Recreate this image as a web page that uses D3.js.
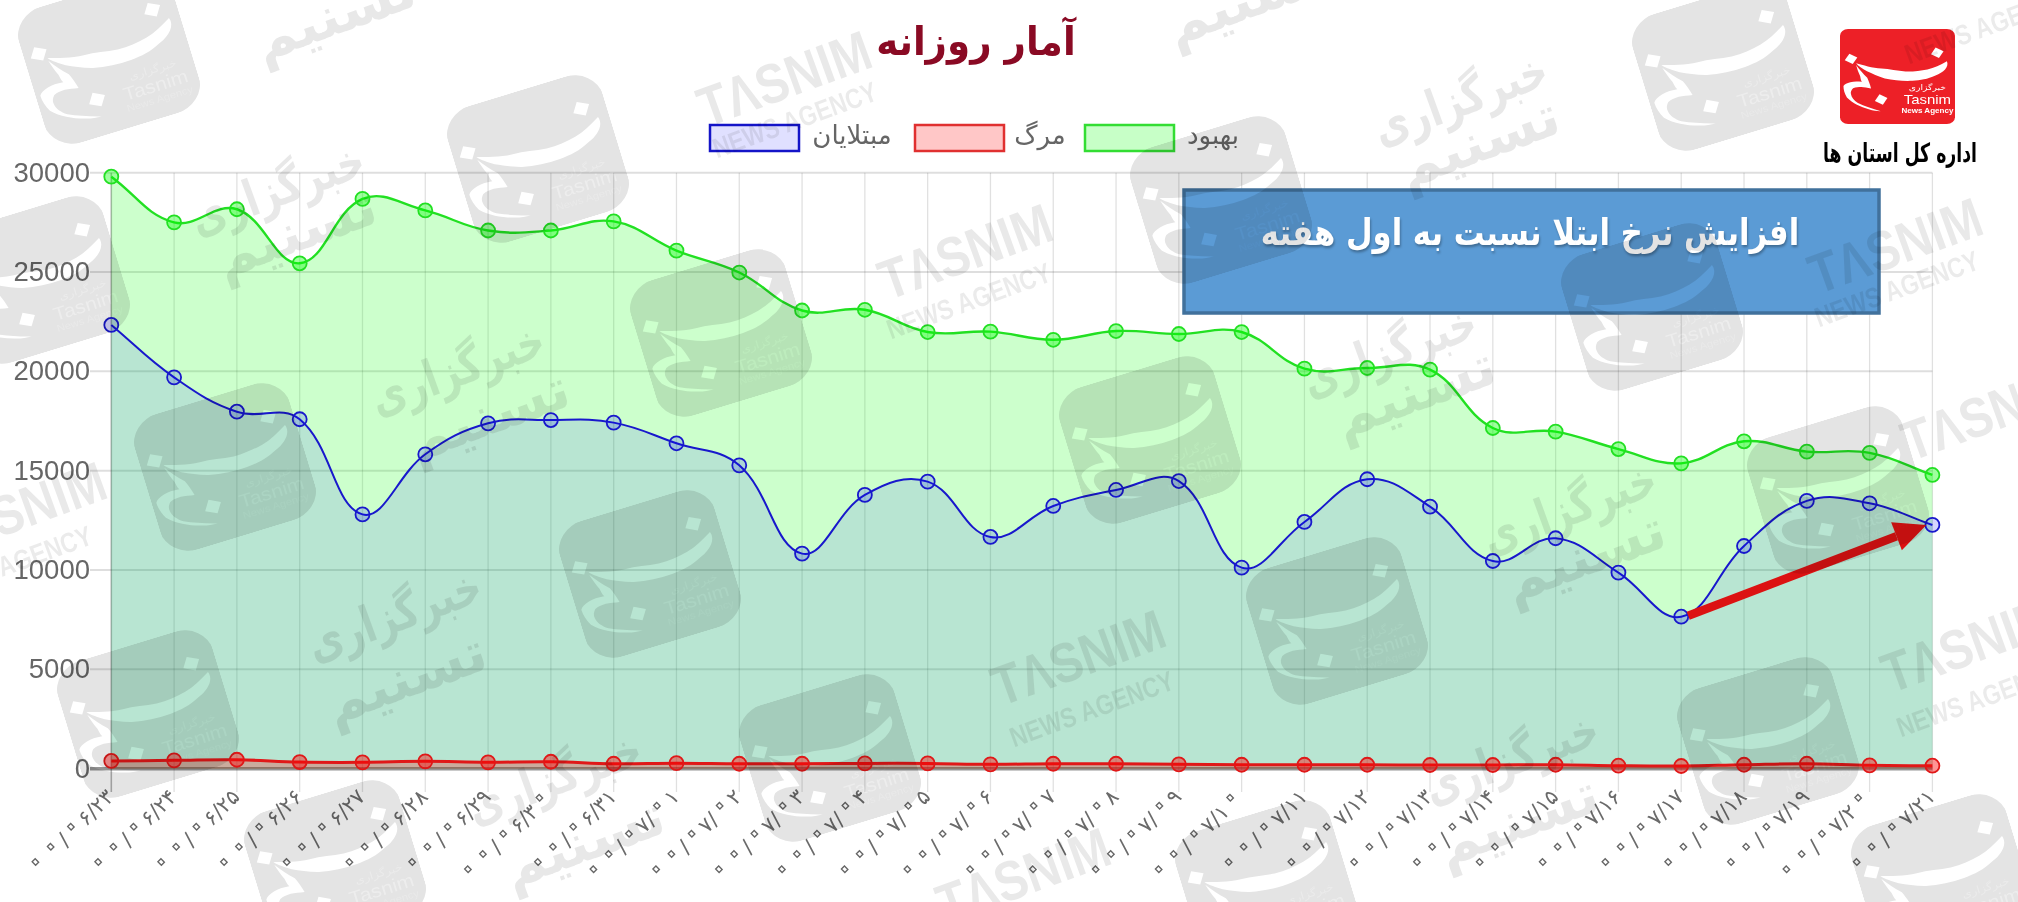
<!DOCTYPE html>
<html lang="fa">
<head>
<meta charset="utf-8">
<title>آمار روزانه</title>
<script src="https://cdn.jsdelivr.net/npm/d3@7/dist/d3.min.js"></script>
<style>
html,body{margin:0;padding:0;background:#fff;overflow:hidden}
svg{display:block;filter:blur(.45px)}
text{font-family:"DejaVu Sans",sans-serif}
</style>
</head>
<body>
<svg id="c" width="2018" height="902" viewBox="0 0 2018 902"></svg>
<script>
const dates = ["۰۰/۰۶/۲۳","۰۰/۰۶/۲۴","۰۰/۰۶/۲۵","۰۰/۰۶/۲۶","۰۰/۰۶/۲۷","۰۰/۰۶/۲۸","۰۰/۰۶/۲۹","۰۰/۰۶/۳۰","۰۰/۰۶/۳۱","۰۰/۰۷/۰۱","۰۰/۰۷/۰۲","۰۰/۰۷/۰۳","۰۰/۰۷/۰۴","۰۰/۰۷/۰۵","۰۰/۰۷/۰۶","۰۰/۰۷/۰۷","۰۰/۰۷/۰۸","۰۰/۰۷/۰۹","۰۰/۰۷/۱۰","۰۰/۰۷/۱۱","۰۰/۰۷/۱۲","۰۰/۰۷/۱۳","۰۰/۰۷/۱۴","۰۰/۰۷/۱۵","۰۰/۰۷/۱۶","۰۰/۰۷/۱۷","۰۰/۰۷/۱۸","۰۰/۰۷/۱۹","۰۰/۰۷/۲۰","۰۰/۰۷/۲۱"];
const recovered = [29800,27500,28160,25440,28680,28100,27090,27090,27550,26080,24975,23065,23100,21980,22000,21590,22030,21880,21980,20135,20170,20085,17150,16970,16090,15370,16480,15960,15900,14785];
const infected = [22336,19700,17970,17590,12800,15825,17385,17550,17420,16380,15270,10825,13780,14450,11665,13225,14030,14480,10120,12420,14570,13190,10455,11600,9870,7650,11210,13480,13360,12270];
const deaths = [390,420,450,335,320,370,320,350,250,280,250,250,265,265,220,250,250,220,200,200,200,185,185,200,150,135,200,250,170,150];
const yTicks = [0,5000,10000,15000,20000,25000,30000];
const titleText = "آمار روزانه";
const noteText = "افزایش نرخ ابتلا نسبت به اول هفته";
const unitText = "اداره کل استان ها";
const seriesNames = ["مبتلایان","مرگ","بهبود"];

// decoration layout (watermarks of the source picture)
const wmLogos = [[109,60],[538,159],[721,333],[39,280],[1723,67],[1221,200],[1652,307],[1150,440],[225,467],[650,574],[830,758],[148,714],[335,864],[1337,621],[1768,741],[1838,490],[1266,884],[1942,878]];
const wmAgency = [[283,205],[463,385],[1466,115],[1395,367],[1575,524],[1517,774],[560,794],[400,631]];
const wmName = [[302,250],[495,433],[1485,160],[1421,410],[1591,574],[1524,838],[590,860],[412,696],[341,33],[1253,17]];
const wmLatin = [[791,97],[972,270],[1902,264],[1085,676],[1995,431],[26,528],[1975,663],[1030,894]];
const wmNews = [[798,129],[972,310],[1900,298],[1095,718],[13,573],[1982,708],[1990,35]];

const svg = d3.select("#c");
const x = d3.scalePoint().domain(d3.range(dates.length)).range([111.3,1932.4]);
const y = d3.scaleLinear().domain([0,30000]).range([768.7,172.7]);

function spline(values, close){
  const pts = values.map((v,i)=>[x(i),y(v)]);
  const t = 0.4, n = pts.length, p = d3.path();
  const cps = pts.map((c,i)=>{
    const a = pts[Math.max(i-1,0)], b = pts[Math.min(i+1,n-1)];
    const d01 = Math.hypot(c[0]-a[0],c[1]-a[1]), d12 = Math.hypot(b[0]-c[0],b[1]-c[1]);
    const s = d01+d12 || 1, fa = t*d01/s, fb = t*d12/s;
    return {prev:[c[0]-fa*(b[0]-a[0]),c[1]-fa*(b[1]-a[1])], next:[c[0]+fb*(b[0]-a[0]),c[1]+fb*(b[1]-a[1])]};
  });
  p.moveTo(pts[0][0],pts[0][1]);
  for(let i=1;i<n;i++) p.bezierCurveTo(cps[i-1].next[0],cps[i-1].next[1],cps[i].prev[0],cps[i].prev[1],pts[i][0],pts[i][1]);
  if(close){ p.lineTo(x(n-1),y(0)); p.lineTo(x(0),y(0)); p.closePath(); }
  return p.toString();
}

// grid
const grid = svg.append("g");
grid.selectAll("line.h").data(yTicks).join("line").attr("class","h")
  .attr("x1",90).attr("x2",x(dates.length-1)).attr("y1",d=>y(d)).attr("y2",d=>y(d))
  .attr("stroke",d=>d===0?"rgba(0,0,0,.42)":"rgba(0,0,0,.13)").attr("stroke-width",d=>d===0?3.5:2);
grid.selectAll("line.v").data(dates.map((d,i)=>i)).join("line").attr("class","v")
  .attr("x1",d=>x(d)).attr("x2",d=>x(d)).attr("y1",y(30000)).attr("y2",792)
  .attr("stroke",d=>d===0?"rgba(0,0,0,.3)":"rgba(0,0,0,.12)").attr("stroke-width",d=>d===0?1.6:1.3);

// axis labels
svg.append("g").selectAll("text").data(yTicks).join("text")
  .attr("x",90).attr("y",d=>y(d)+9).attr("text-anchor","end")
  .style("font-family",'"Liberation Sans",sans-serif').style("font-size","27.5px").attr("fill","#666").text(d=>d);
const xl = svg.append("g").selectAll("text").data(dates).join("text")
  .attr("transform",(d,i)=>`translate(${x(i)+4},${798}) rotate(-45)`)
  .attr("text-anchor","end").attr("direction","ltr")
  .style("font-size","21px").attr("fill","#6a6a6a");
// the Persian zero is shown as an open ring: same characters, drawn larger and hollow
xl.each(function(d){
  const el = d3.select(this);
  for(const ch of d){
    const ts = el.append("tspan").text(ch);
    if(ch==="۰") ts.style("font-size","40px").style("letter-spacing","-12px").attr("fill","none").attr("stroke","#666").attr("stroke-width",1.3);
  }
});

// series
const series = [
  {v:recovered,fill:"rgba(0,255,0,.2)",stroke:"#22e022",pf:"rgba(0,255,0,.38)",w:2.4},
  {v:infected,fill:"rgba(0,0,255,.1)",stroke:"#1818cc",pf:"rgba(0,0,255,.16)",w:2},
  {v:deaths,fill:"rgba(255,0,0,.25)",stroke:"#e01818",pf:"rgba(255,0,0,.42)",w:3}
];
series.forEach(s=>{
  const g = svg.append("g");
  g.append("path").attr("d",spline(s.v,true)).attr("fill",s.fill);
  g.append("path").attr("d",spline(s.v,false)).attr("fill","none").attr("stroke",s.stroke).attr("stroke-width",s.w);
  g.selectAll("circle").data(s.v).join("circle")
    .attr("cx",(d,i)=>x(i)).attr("cy",d=>y(d)).attr("r",7)
    .attr("fill",s.pf).attr("stroke",s.stroke).attr("stroke-width",1.8);
});

// arrow between the week's low and the last point of the infected series
const a0 = [x(25)+7,y(infected[25])-1], a1 = [x(29)-6,y(infected[29])];
const ang = Math.atan2(a1[1]-a0[1],a1[0]-a0[0]), hl=32, hw=15;
const neck = [a1[0]-hl*Math.cos(ang),a1[1]-hl*Math.sin(ang)];
svg.append("line").attr("x1",a0[0]).attr("y1",a0[1]).attr("x2",neck[0]).attr("y2",neck[1])
  .attr("stroke","#dc1212").attr("stroke-width",8.5);
svg.append("path").attr("fill","#dc1212").attr("d",d3.line()([a1,
  [neck[0]-hw*Math.sin(ang),neck[1]+hw*Math.cos(ang)],
  [neck[0]+hw*Math.sin(ang),neck[1]-hw*Math.cos(ang)]])+"Z");

// note box
svg.append("rect").attr("x",1184).attr("y",190).attr("width",695).attr("height",123)
  .attr("fill","#5b9bd5").attr("stroke","#41719c").attr("stroke-width",3.5);
svg.append("text").attr("transform","translate(1530,245) scale(.93,1.1)").attr("text-anchor","middle").attr("direction","rtl")
  .style("font-weight","bold").style("font-size","33px").attr("fill","#fff")
  .style("filter","drop-shadow(1px 2px 1px rgba(0,0,0,.3))").text(noteText);

// title
svg.append("text").attr("transform","translate(976,55) scale(.93,1)").attr("text-anchor","middle").attr("direction","rtl")
  .style("font-weight","bold").style("font-size","40px").attr("fill","#8a0a24").text(titleText);

// legend
const legend = [
  {name:seriesNames[0],sx:710,tx:852,fill:"rgba(0,0,255,.12)",stroke:"#1414c8"},
  {name:seriesNames[1],sx:915,tx:1040,fill:"rgba(255,0,0,.22)",stroke:"#e03030"},
  {name:seriesNames[2],sx:1085,tx:1213,fill:"rgba(0,255,0,.22)",stroke:"#33dd33"}
];
const lg = svg.append("g").selectAll("g").data(legend).join("g");
lg.append("rect").attr("x",d=>d.sx).attr("y",125).attr("width",89).attr("height",26)
  .attr("fill",d=>d.fill).attr("stroke",d=>d.stroke).attr("stroke-width",2.5);
lg.append("text").attr("x",d=>d.tx).attr("y",144).attr("text-anchor","middle").attr("direction","rtl")
  .style("font-size","26px").attr("fill","#666").text(d=>d.name);

// brand mark
const defs = svg.append("defs");
const brush = "M93 34C95 40 90 46 83 49C76 53 70 54 63 54.5C55 55 47 54 39 52C33 50 28 47 23.5 44.6C20 42 16 39 14 36C20 38 28 41 36 41.6C43 42 50 44 57 44.8C64 45 70 44 76 42.6C82 41 87 38 93 34Z"
  +"M14 38C15 42 16 46 17.5 49.5C18 52 18 54 19 55.6C15 55 12 55 9 56C6 57 4 58 3 60C3 64 4 68 6 72C11 78 18 82 25 84.4C29 86 32 86 35.5 86.5C28 84 21 81 15.6 78C12 75 10 72 9.5 68.4C9 66 10 64 11.4 62.3C14 61 16 61 18.5 61C21 61 24 62 27 62.6C26 58 25 55 23.7 51.4C20 47 17 43 14 38Z";
const dots = [[84.6,25],[9.6,31.4],[35.8,74.2]];
function drawGlyph(g,fill){
  g.append("path").attr("d",brush).attr("fill",fill);
  g.selectAll("rect.dot").data(dots).join("rect").attr("class","dot")
    .attr("x",d=>d[0]-4).attr("y",d=>d[1]-4).attr("width",8).attr("height",8)
    .attr("transform",d=>`rotate(30 ${d[0]} ${d[1]})`).attr("fill",fill);
}
const m = defs.append("mask").attr("id","wmMask").attr("maskUnits","userSpaceOnUse")
  .attr("x",0).attr("y",0).attr("width",100).attr("height",100);
m.append("rect").attr("width",100).attr("height",100).attr("rx",20).attr("fill","#fff");
drawGlyph(m,"#000");
m.append("text").attr("x",74).attr("y",68).attr("text-anchor","middle").style("font-size","7.5px").attr("fill","#bbb").text("خبرگزاری");
m.append("text").attr("x",73).attr("y",81).attr("text-anchor","middle").style("font-family",'"Liberation Sans"').style("font-size","13px").attr("fill","#aaa").text("Tasnim");
m.append("text").attr("x",73).attr("y",89).attr("text-anchor","middle").style("font-family",'"Liberation Sans"').style("font-size","7px").attr("fill","#ccc").text("News Agency");
defs.append("g").attr("id","wmLogo").append("rect").attr("width",100).attr("height",100).attr("mask","url(#wmMask)").attr("fill","#000");

// top-right logo
const logo = svg.append("g").attr("transform","translate(1840,29) scale(1.15,.95)");
logo.append("rect").attr("width",100).attr("height",100).attr("rx",7).attr("fill","#ed2027");
drawGlyph(logo,"#fff");
logo.append("text").attr("x",76).attr("y",64).attr("text-anchor","middle").style("font-size","8px").attr("fill","#fff").text("خبرگزاری");
logo.append("text").attr("x",76).attr("y",79).attr("text-anchor","middle").style("font-family",'"Liberation Sans"').style("font-size","13px").attr("fill","#fff").text("Tasnim");
logo.append("text").attr("x",76).attr("y",88).attr("text-anchor","middle").style("font-family",'"Liberation Sans"').style("font-size","7px").style("font-weight","bold").attr("fill","#fff").text("News Agency");
svg.append("text").attr("transform","translate(1900,162) scale(.72,1.1)").attr("text-anchor","middle").attr("direction","rtl")
  .style("font-weight","bold").style("font-size","24px").attr("fill","#000").text(unitText);

// watermarks on top of everything in the chart
const wm = svg.append("g").style("pointer-events","none");
wm.selectAll("use").data(wmLogos).join("use").attr("href","#wmLogo")
  .attr("transform",d=>`translate(${d[0]},${d[1]}) rotate(-17) scale(1.62,1.42) translate(-50,-50)`).attr("opacity",.105);
const wmText = (data,txt,fs,sx,font,weight,op)=> wm.append("g").selectAll("text").data(data).join("text")
  .attr("transform",d=>`translate(${d[0]},${d[1]}) rotate(-20) scale(${sx},1)`)
  .attr("text-anchor","middle").style("font-family",font).style("font-weight",weight).style("font-size",fs+"px")
  .attr("fill","#000").attr("opacity",op).text(txt);
wmText(wmLatin,"TΛSNIM",56,.85,'"Liberation Sans"',"bold",.085);
wmText(wmNews,"NEWS AGENCY",28,.82,'"Liberation Sans"',"bold",.08);
wmText(wmAgency,"خبرگزاری",50,.76,'"DejaVu Sans"',"bold",.09);
wmText(wmName,"تسنیم",56,1,'"DejaVu Sans"',"bold",.09);
</script>
</body>
</html>
